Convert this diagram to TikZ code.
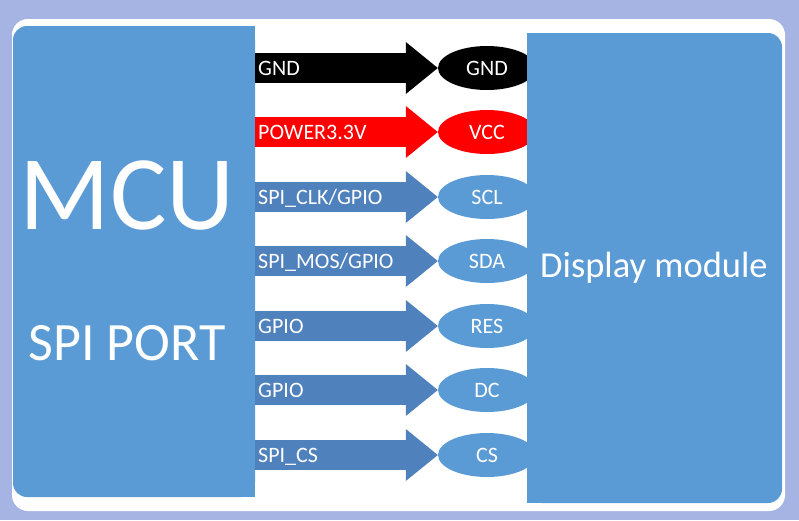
\documentclass[tikz,border=0pt]{standalone}
\usepackage{fontspec}
\setmainfont{Carlito}
\usetikzlibrary{shapes.geometric,arrows.meta}
\definecolor{bgc}{HTML}{A5B4E3}
\definecolor{boxblue}{HTML}{5B9BD5}
\definecolor{arrowblue}{HTML}{4F81BD}
\definecolor{pinred}{HTML}{FF0000}
\tikzset{
  bigbox/.style={fill=boxblue, rounded corners=14pt, inner sep=0pt},
  pin/.style={ellipse, minimum width=98pt, minimum height=44pt, inner sep=0pt,
    text=white, font=\fontsize{22}{22}\selectfont, text depth=0pt},
  conn/.style={line width=30pt, -{Triangle[length=32pt,width=52pt,line width=0pt]}},
  siglabel/.style={anchor=base west, text=white, inner sep=0pt,
    font=\fontsize{22}{22}\selectfont},
}
\begin{document}
\begin{tikzpicture}[x=1pt,y=-1pt]
\useasboundingbox (0,0) rectangle (799,520);
\fill[bgc] (0,0) rectangle (799,520);
\fill[white, rounded corners=16pt] (12,19) rectangle (785,511);
% MCU
\node[bigbox, minimum width=242pt, minimum height=471pt] (mcu) at (134,261.5) {};
\fill[boxblue] ([xshift=-30pt]mcu.north east) rectangle (mcu.south east);
\node[anchor=base, text=white, inner sep=0pt, font=\fontsize{106}{106}\selectfont] (mcut) at (127,229) {MCU};
\node[anchor=base, text=white, inner sep=0pt, font=\fontsize{54}{54}\selectfont] (spit) at (127,360) {SPI PORT};
% pins
\node[pin, fill=black] (e1) at (487,68) {GND};
\node[pin, fill=pinred] (e2) at (487,132) {VCC};
\node[pin, fill=boxblue] (e3) at (487,197) {SCL};
\node[pin, fill=boxblue] (e4) at (487,261) {SDA};
\node[pin, fill=boxblue] (e5) at (487,326) {RES};
\node[pin, fill=boxblue] (e6) at (487,390) {DC};
\node[pin, fill=boxblue] (e7) at (487,455) {CS};
% display
\node[bigbox, minimum width=255pt, minimum height=470pt] (disp) at (654.5,268) {};
\fill[boxblue] (disp.north west) rectangle ([xshift=30pt]disp.south west);
\node[anchor=base, text=white, inner sep=0pt, font=\fontsize{36.5}{36.5}\selectfont] (dispt) at (654,277) {Display module};
% connectors
\draw[conn, black] (mcu.east |- e1.west) -- (e1.west);
\draw[conn, pinred] (mcu.east |- e2.west) -- (e2.west);
\draw[conn, arrowblue] (mcu.east |- e3.west) -- (e3.west);
\draw[conn, arrowblue] (mcu.east |- e4.west) -- (e4.west);
\draw[conn, arrowblue] (mcu.east |- e5.west) -- (e5.west);
\draw[conn, arrowblue] (mcu.east |- e6.west) -- (e6.west);
\draw[conn, arrowblue] (mcu.east |- e7.west) -- (e7.west);
% labels
\node[siglabel] (l1) at (258,75) {GND};
\node[siglabel] (l2) at (258,139) {POWER3.3V};
\node[siglabel] (l3) at (258,204) {SPI\_CLK/GPIO};
\node[siglabel] (l4) at (258,268) {SPI\_MOS/GPIO};
\node[siglabel] (l5) at (258,333) {GPIO};
\node[siglabel] (l6) at (258,397) {GPIO};
\node[siglabel] (l7) at (258,462) {SPI\_CS};
\end{tikzpicture}
\end{document}
